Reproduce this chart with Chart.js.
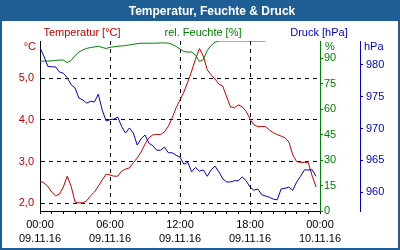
<!DOCTYPE html>
<html>
<head>
<meta charset="utf-8">
<script src="https://cdn.jsdelivr.net/npm/chart.js"></script>
<style>
  html, body { margin: 0; padding: 0; background: #fff; }
  #wrap { position: relative; width: 400px; height: 250px; }
</style>
</head>
<body>
<div id="wrap"><canvas id="wetterChart" width="400" height="250"></canvas></div>
<script>
// Messwerte im 20-Minuten-Takt, ab 09.11.16 00:00
const temperatur = [
  2.53, 2.49, 2.41, 2.27, 2.18, 2.22, 2.39, 2.65, 2.41, 2.03,
  2.01, 2.01, 2.06, 2.18, 2.27, 2.41, 2.56, 2.70, 2.68, 2.65,
  2.65, 2.77, 2.82, 2.85, 2.97, 3.09, 3.23, 3.42, 3.57, 3.64,
  3.65, 3.65, 3.71, 3.85, 4.05, 4.29, 4.48, 4.67, 4.91, 5.17,
  5.46, 5.71, 5.53, 5.20, 5.08, 4.98, 4.86, 4.81, 4.55, 4.31,
  4.29, 4.36, 4.31, 4.21, 4.02, 3.88, 3.84, 3.84, 3.84, 3.76,
  3.69, 3.65, 3.61, 3.57, 3.47, 3.16, 3.00, 2.98, 2.98, 2.97,
  2.65, 2.39
];
const feuchte = [
  88.0, 88.2, 88.2, 88.4, 88.6, 88.8, 88.8, 87.3, 88.5, 91.4,
  93.5, 94.7, 95.6, 96.2, 96.5, 96.9, 96.2, 95.6, 96.3, 96.6,
  96.9, 97.1, 97.3, 97.7, 98.1, 98.4, 98.7, 98.7, 98.7, 98.7,
  98.7, 98.9, 98.9, 98.7, 98.0, 96.8, 95.3, 93.8, 93.5, 93.5,
  91.7, 87.9, 89.1, 94.4, 97.4, 99.4, 100, 100, 100, 100,
  100, 100, 100, 100, 100, 100, 100, 100, 100, null,
  null, null, null, null, null, null, null, null, null, null,
  null, null
];
const druck = [
  982.7, 981.4, 979.8, 979.7, 979.7, 978.9, 978.7, 978.0, 976.9, 976.4,
  974.8, 974.5, 974.0, 974.3, 974.2, 975.4, 972.9, 971.2, 971.4, 971.5,
  971.8, 970.3, 969.3, 970.1, 969.3, 967.4, 968.4, 969.0, 967.7, 967.3,
  966.6, 966.6, 967.1, 966.2, 966.2, 965.8, 965.5, 964.4, 964.7, 963.2,
  963.9, 963.3, 963.5, 962.5, 963.5, 964.1, 963.2, 962.1, 961.6, 961.6,
  961.8, 961.8, 962.4, 961.8, 960.8, 960.3, 960.5, 959.6, 959.4, 959.2,
  958.9, 958.8, 960.5, 960.6, 960.8, 960.3, 961.6, 962.5, 963.5, 963.5,
  963.5, 962.5
];

// Achsenbeschriftung
const zeitLabels = ['00:00', '06:00', '12:00', '18:00', '00:00'];
const datumLabels = ['09.11.16', '09.11.16', '09.11.16', '09.11.16', '10.11.16'];

// Stunden ab Mitternacht fuer jeden Messwert
const stunden = temperatur.map((_, i) => i / 3);

const ROT = '#c80000';
const GRUEN = '#008000';
const BLAU = '#0000c8';
const SCHRIFT = '"Liberation Sans", Arial, sans-serif';

function punkte(werte) {
  return werte.map((v, i) => ({ x: stunden[i], y: v }));
}

// Rahmen, Titel, Legende und Einheiten selbst zeichnen
const rahmenPlugin = {
  id: 'rahmen',
  beforeDraw(chart) {
    const ctx = chart.ctx;
    ctx.save();
    ctx.fillStyle = '#ffffff';
    ctx.fillRect(0, 0, 400, 250);
    ctx.fillStyle = '#1e5e95';
    ctx.fillRect(0, 0, 400, 21);
    ctx.fillRect(0, 0, 2, 250);
    ctx.fillRect(398, 0, 2, 250);
    ctx.fillRect(0, 248, 400, 2);
    ctx.restore();
  },
  afterDraw(chart) {
    const ctx = chart.ctx;
    ctx.save();
    ctx.textBaseline = 'alphabetic';
    ctx.fillStyle = '#ffffff';
    ctx.textAlign = 'center';
    ctx.font = 'bold 12px ' + SCHRIFT;
    ctx.fillText('Temperatur, Feuchte & Druck', 212, 15);

    ctx.font = '11px ' + SCHRIFT;
    ctx.fillStyle = ROT;
    ctx.fillText('Temperatur [°C]', 82, 36);
    ctx.fillStyle = GRUEN;
    ctx.fillText('rel. Feuchte [%]', 203, 36);
    ctx.fillStyle = BLAU;
    ctx.fillText('Druck [hPa]', 319, 36);

    ctx.fillStyle = ROT;
    ctx.textAlign = 'right';
    ctx.fillText('°C', 36, 50);
    ctx.textAlign = 'left';
    ctx.fillStyle = GRUEN;
    ctx.fillText('%', 325, 50);
    ctx.fillStyle = BLAU;
    ctx.fillText('hPa', 364, 50);
    ctx.restore();
  }
};

function createWetterChart() {
  const ctx = document.getElementById('wetterChart').getContext('2d');

  new Chart(ctx, {
    type: 'line',
    data: {
      datasets: [
        { label: 'Druck', data: punkte(druck), yAxisID: 'yP', borderColor: BLAU, borderWidth: 1, pointRadius: 0, tension: 0 },
        { label: 'Feuchte', data: punkte(feuchte), yAxisID: 'yH', borderColor: GRUEN, borderWidth: 1, pointRadius: 0, tension: 0 },
        { label: 'Temperatur', data: punkte(temperatur), yAxisID: 'yT', borderColor: ROT, borderWidth: 1, pointRadius: 0, tension: 0 }
      ]
    },
    options: {
      responsive: false,
      animation: false,
      devicePixelRatio: 1,
      layout: { padding: { top: 41, left: 0, right: 0, bottom: 0 } },
      plugins: {
        legend: { display: false },
        title: { display: false },
        tooltip: { enabled: false }
      },
      scales: {
        x: {
          type: 'linear',
          min: 0,
          max: 24,
          afterFit: (s) => { s.height = 39; },
          border: { color: '#000', dash: [4, 4] },
          grid: {
            color: (c) => (c.tick && [6, 12, 18].includes(c.tick.value)) ? '#000' : 'rgba(0,0,0,0)',
            tickColor: '#000',
            tickLength: 3
          },
          ticks: {
            stepSize: 1,
            autoSkip: false,
            maxRotation: 0,
            color: '#000',
            padding: 3,
            font: { family: SCHRIFT, size: 11, lineHeight: 1.36 },
            callback: (v) => (v % 6 === 0) ? [zeitLabels[v / 6], datumLabels[v / 6]] : ''
          }
        },
        yT: {
          position: 'left',
          min: 1.815,
          max: 5.892,
          afterFit: (s) => { s.width = 40; },
          border: { color: '#000', dash: [4, 4] },
          grid: { color: '#000', drawTicks: false },
          ticks: {
            stepSize: 1,
            includeBounds: false,
            color: ROT,
            padding: 6,
            font: { family: SCHRIFT, size: 11 },
            callback: (v) => v.toFixed(1).replace('.', ',')
          }
        },
        yH: {
          position: 'right',
          min: 0,
          max: 100,
          afterFit: (s) => { s.width = 40; },
          border: { color: GRUEN },
          grid: { drawOnChartArea: false, color: GRUEN, tickLength: 3 },
          ticks: {
            stepSize: 15,
            includeBounds: false,
            color: GRUEN,
            padding: 1,
            font: { family: SCHRIFT, size: 11 }
          }
        },
        yP: {
          position: 'right',
          min: 957.04,
          max: 983.77,
          afterFit: (s) => { s.width = 40; },
          border: { color: BLAU },
          grid: { drawOnChartArea: false, color: BLAU, tickLength: 3 },
          ticks: {
            stepSize: 5,
            includeBounds: false,
            color: BLAU,
            padding: 3,
            font: { family: SCHRIFT, size: 11 }
          }
        }
      }
    },
    plugins: [rahmenPlugin]
  });
}

document.addEventListener('DOMContentLoaded', () => {
  createWetterChart();
});
</script>
</body>
</html>
